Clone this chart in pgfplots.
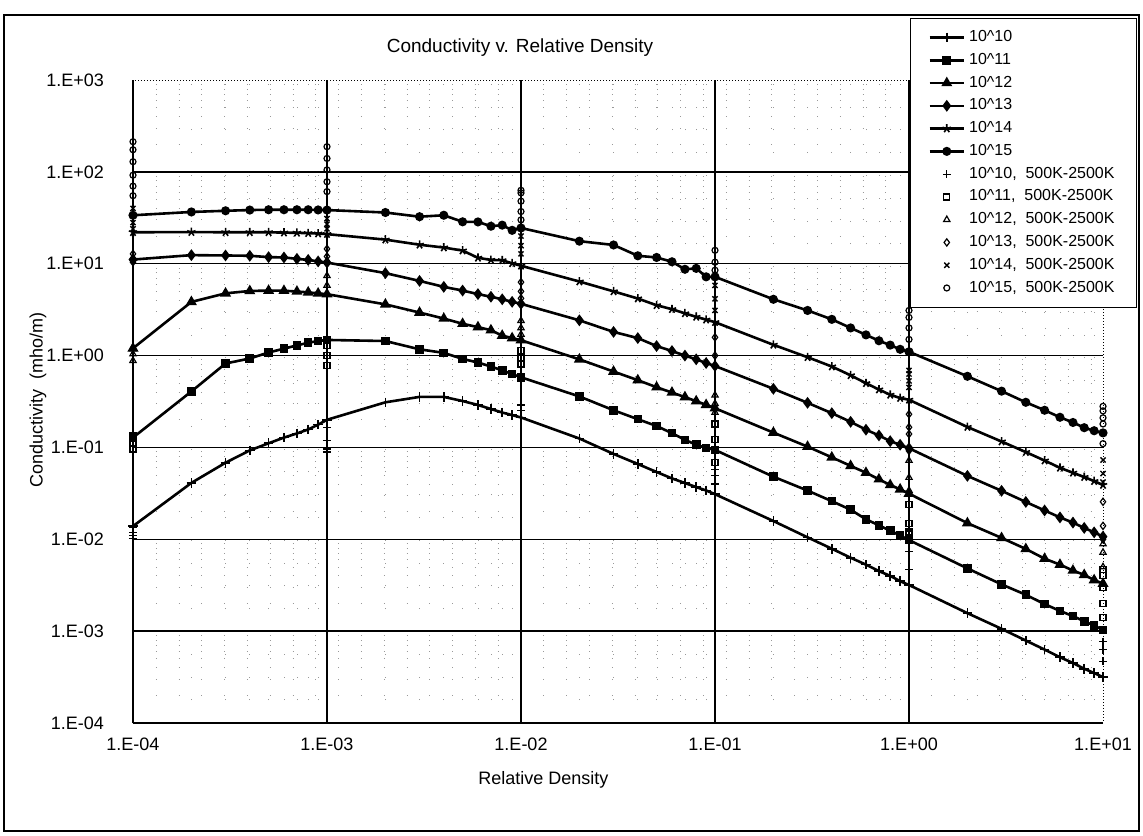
\documentclass[border=0pt]{standalone}
\usepackage{pgfplots}
\pgfplotsset{compat=1.18}
\usepackage{pgfplotstable}
\usepackage{fontspec}
\setmainfont{Liberation Sans}

\pgfplotstableread{
x y
1e-4 0.0139
2e-4 0.0411
3e-4 0.0682
4e-4 0.0929
5e-4 0.111
6e-4 0.128
7e-4 0.142
8e-4 0.157
9e-4 0.177
1e-3 0.200
2e-3 0.310
3e-3 0.355
4e-3 0.355
5e-3 0.320
6e-3 0.290
7e-3 0.262
8e-3 0.240
9e-3 0.225
1e-2 0.212
2e-2 0.125
3e-2 0.085
4e-2 0.066
5e-2 0.054
6e-2 0.046
7e-2 0.041
8e-2 0.037
9e-2 0.034
1e-1 0.031
2e-1 0.0158
3e-1 0.0105
4e-1 0.0079
5e-1 0.0063
6e-1 0.0053
7e-1 0.0045
8e-1 0.0040
9e-1 0.0035
1 0.00318
2 0.00157
3 0.00106
4 0.00079
5 0.00063
6 0.00052
7 0.00045
8 0.00039
9 0.00035
10 0.000316
}\tA

\pgfplotstableread{
x y
1e-4 0.128
2e-4 0.407
3e-4 0.82
4e-4 0.93
5e-4 1.08
6e-4 1.19
7e-4 1.29
8e-4 1.38
9e-4 1.44
1e-3 1.48
2e-3 1.44
3e-3 1.17
4e-3 1.07
5e-3 0.92
6e-3 0.84
7e-3 0.76
8e-3 0.69
9e-3 0.63
1e-2 0.58
2e-2 0.359
3e-2 0.254
4e-2 0.203
5e-2 0.171
6e-2 0.143
7e-2 0.121
8e-2 0.107
9e-2 0.099
1e-1 0.094
2e-1 0.048
3e-1 0.0339
4e-1 0.026
5e-1 0.021
6e-1 0.0165
7e-1 0.0142
8e-1 0.0124
9e-1 0.011
1 0.0098
2 0.00482
3 0.00323
4 0.00249
5 0.00197
6 0.00166
7 0.00146
8 0.00128
9 0.00115
10 0.00103
}\tB

\pgfplotstableread{
x y
1e-4 1.2
2e-4 3.84
3e-4 4.76
4e-4 5.05
5e-4 5.1
6e-4 5.08
7e-4 4.98
8e-4 4.88
9e-4 4.75
1e-3 4.66
2e-3 3.61
3e-3 2.94
4e-3 2.53
5e-3 2.22
6e-3 2.04
7e-3 1.89
8e-3 1.65
9e-3 1.55
1e-2 1.47
2e-2 0.91
3e-2 0.67
4e-2 0.54
5e-2 0.452
6e-2 0.396
7e-2 0.353
8e-2 0.319
9e-2 0.291
1e-1 0.267
2e-1 0.145
3e-1 0.102
4e-1 0.078
5e-1 0.063
6e-1 0.053
7e-1 0.045
8e-1 0.039
9e-1 0.035
1 0.0314
2 0.0150
3 0.01035
4 0.00785
5 0.00615
6 0.0053
7 0.00457
8 0.0041
9 0.0036
10 0.00329
}\tC

\pgfplotstableread{
x y
1e-4 11.1
2e-4 12.4
3e-4 12.3
4e-4 12.2
5e-4 11.8
6e-4 11.7
7e-4 11.3
8e-4 11.0
9e-4 10.6
1e-3 10.3
2e-3 7.9
3e-3 6.5
4e-3 5.6
5e-3 5.1
6e-3 4.67
7e-3 4.37
8e-3 4.1
9e-3 3.85
1e-2 3.66
2e-2 2.42
3e-2 1.81
4e-2 1.55
5e-2 1.27
6e-2 1.12
7e-2 1.0
8e-2 0.91
9e-2 0.83
1e-1 0.77
2e-1 0.435
3e-1 0.306
4e-1 0.236
5e-1 0.19
6e-1 0.156
7e-1 0.135
8e-1 0.117
9e-1 0.107
1 0.098
2 0.049
3 0.0337
4 0.0255
5 0.0206
6 0.0173
7 0.0152
8 0.0133
9 0.0119
10 0.0107
}\tD

\pgfplotstableread{
x y
1e-4 22.0
2e-4 22.1
3e-4 22.0
4e-4 22.0
5e-4 22.0
6e-4 21.8
7e-4 21.7
8e-4 21.5
9e-4 21.3
1e-3 21.0
2e-3 18.3
3e-3 16.1
4e-3 15.0
5e-3 13.9
6e-3 11.6
7e-3 11.0
8e-3 10.9
9e-3 10.1
1e-2 9.5
2e-2 6.4
3e-2 5.0
4e-2 4.18
5e-2 3.53
6e-2 3.2
7e-2 2.88
8e-2 2.64
9e-2 2.46
1e-1 2.31
2e-1 1.31
3e-1 0.96
4e-1 0.76
5e-1 0.61
6e-1 0.50
7e-1 0.427
8e-1 0.374
9e-1 0.345
1 0.33
2 0.167
3 0.116
4 0.089
5 0.072
6 0.060
7 0.053
8 0.0476
9 0.043
10 0.039
}\tE

\pgfplotstableread{
x y
1e-4 33.7
2e-4 36.6
3e-4 37.7
4e-4 38.4
5e-4 38.7
6e-4 38.7
7e-4 38.7
8e-4 38.7
9e-4 38.5
1e-3 38.4
2e-3 36.1
3e-3 32.5
4e-3 33.7
5e-3 28.6
6e-3 28.5
7e-3 25.6
8e-3 26.3
9e-3 23.1
1e-2 24.5
2e-2 17.6
3e-2 16.0
4e-2 12.2
5e-2 11.7
6e-2 10.5
7e-2 8.7
8e-2 8.9
9e-2 7.2
1e-1 7.2
2e-1 4.1
3e-1 3.1
4e-1 2.48
5e-1 2.0
6e-1 1.68
7e-1 1.45
8e-1 1.30
9e-1 1.17
1 1.10
2 0.595
3 0.41
4 0.31
5 0.254
6 0.213
7 0.187
8 0.164
9 0.152
10 0.144
}\tF

\pgfplotstableread{
x y
1e-4 0.0134
1e-4 0.0118
1e-4 0.0109
1e-4 0.0102
1e-3 0.166
1e-3 0.118
1e-3 0.096
1e-3 0.089
1e-2 0.25
1e-2 0.29
1e-1 0.049
1e-1 0.058
1e-1 0.040
1 0.0123
1 0.0074
1 0.0047
10 0.00077
10 0.00063
10 0.00047
}\sA

\pgfplotstableread{
x y
1e-4 0.134
1e-4 0.113
1e-4 0.096
1e-3 1.28
1e-3 1.0
1e-3 0.78
1e-2 1.13
1e-2 0.95
1e-2 0.81
1e-1 0.18
1e-1 0.123
1e-1 0.069
1 0.024
1 0.015
1 0.012
10 0.0047
10 0.0040
10 0.0030
10 0.0020
10 0.0014
}\sB

\pgfplotstableread{
x y
1e-4 1.18
1e-4 1.04
1e-4 0.88
1e-3 7.4
1e-3 5.8
1e-2 1.7
1e-2 2.0
1e-2 2.4
1e-1 0.37
1e-1 0.24
1e-1 0.30
1 0.072
1 0.047
1 0.034
10 0.0089
10 0.0072
10 0.0050
}\sC

\pgfplotstableread{
x y
1e-4 12.8
1e-4 11.3
1e-4 10.4
1e-3 14.5
1e-3 12.0
1e-2 4.2
1e-2 5.0
1e-2 6.3
1e-1 1.58
1e-1 1.0
1 0.23
1 0.166
1 0.14
1 0.092
10 0.0256
10 0.014
10 0.010
}\sD

\pgfplotstableread{
x y
1e-4 24
1e-4 28
1e-4 34
1e-4 40
1e-3 31
1e-3 24
1e-3 27
1e-2 20
1e-2 15.7
1e-2 12.8
1e-1 5.8
1e-1 4.15
1e-1 3.1
1 0.69
1 0.63
1 0.53
1 0.45
10 0.073
10 0.052
10 0.042
}\sE

\pgfplotstableread{
x y
1e-4 213
1e-4 174
1e-4 129
1e-4 92
1e-4 70
1e-4 55
1e-3 188
1e-3 140
1e-3 105
1e-3 78
1e-3 61
1e-2 63
1e-2 59
1e-2 48
1e-2 37
1e-2 30
1e-1 14
1e-1 10.4
1e-1 8.5
1 3.1
1 2.6
1 2.0
1 1.5
10 0.28
10 0.25
10 0.21
10 0.18
10 0.11
}\sF

\begin{document}
\begin{tikzpicture}[x=1pt,y=1pt]
\useasboundingbox (0,0) rectangle (571.5,417.5);
\draw[line width=0.6pt] (2,2) rectangle (569.5,410);
\begin{axis}[
  at={(66.5pt,56pt)}, anchor=south west,
  width=485pt, height=321.5pt, scale only axis,
  xmode=log, ymode=log,
  xmin=1e-4, xmax=10, ymin=1e-4, ymax=1e3,
  xtick={1e-4,1e-3,1e-2,1e-1,1,10},
  xticklabels={1.E-04,1.E-03,1.E-02,1.E-01,1.E+00,1.E+01},
  ytick={1e-4,1e-3,1e-2,1e-1,1,10,100,1000},
  yticklabels={1.E-04,1.E-03,1.E-02,1.E-01,1.E+00,1.E+01,1.E+02,1.E+03},
  major tick length=0pt, minor tick length=0pt,
  extra x ticks={1e-4,1e-3,1e-2,1e-1,1},
  extra x tick labels={},
  extra y ticks={1e-4,1e-3,1e-2,1e-1,1,10,100},
  extra y tick labels={},
  extra tick style={grid=major, major grid style={black, line width=0.7pt}},
  xminorgrids, yminorgrids,
  minor grid style={black!40, line width=0.4pt, dash pattern=on 0.4pt off 11pt},
  axis line style={black, line width=0.5pt, densely dotted},
  tick label style={font=\fontsize{9}{10}\selectfont},
  xticklabel style={yshift=-4pt},
  yticklabel style={xshift=-11pt},
  title={Conductivity v. Relative Density},
  title style={at={(axis description cs:0.399,1.05)}, anchor=center, yshift=-6pt, font=\fontsize{9.5}{11}\selectfont},
  xlabel={Relative Density},
  xlabel style={at={(axis description cs:0.423,-0.089)}, anchor=center, font=\fontsize{9}{10}\selectfont},
  ylabel={Conductivity\ \ (mho/m)},
  ylabel style={at={(axis description cs:-0.098,0.502)}, anchor=center, font=\fontsize{9}{10}\selectfont},
  legend style={at={(axis description cs:1.035,1.0964)}, anchor=north east,
    font=\fontsize{8}{9}\selectfont, draw=black, line width=0.4pt, fill=white,
    inner xsep=9pt, inner ysep=4pt, row sep=0.3pt},
  legend cell align=left,
]
\addplot[black, line width=1.3pt, mark=+, mark size=2.4pt, mark options={solid, line width=0.8pt}] table {\tA};
\addplot[black, line width=1.3pt, mark=square*, mark size=1.5pt, mark options={solid}] table {\tB};
\addplot[black, line width=1.3pt, mark=triangle*, mark size=1.9pt, mark options={solid}] table {\tC};
\addplot[black, line width=1.3pt, mark=diamond*, mark size=1.9pt, mark options={solid}] table {\tD};
\addplot[black, line width=1.3pt, mark=star, mark size=2.2pt, mark options={solid, line width=0.8pt}] table {\tE};
\addplot[black, line width=1.3pt, mark=*, mark size=1.6pt, mark options={solid}] table {\tF};
\addplot[black, only marks, mark=+, mark size=2pt, line width=0.6pt] table {\sA};
\addplot[black, only marks, mark=square, mark size=1.5pt, line width=0.6pt] table {\sB};
\addplot[black, only marks, mark=triangle, mark size=1.8pt, line width=0.6pt] table {\sC};
\addplot[black, only marks, mark=diamond, mark size=1.8pt, line width=0.6pt] table {\sD};
\addplot[black, only marks, mark=x, mark size=1.8pt, line width=0.7pt] table {\sE};
\addplot[black, only marks, mark=o, mark size=1.5pt, line width=0.6pt] table {\sF};
\legend{10\textasciicircum 10, 10\textasciicircum 11, 10\textasciicircum 12, 10\textasciicircum 13, 10\textasciicircum 14, 10\textasciicircum 15,
  {10\textasciicircum 10,\ \ 500K-2500K}, {10\textasciicircum 11,\ \ 500K-2500K}, {10\textasciicircum 12,\ \ 500K-2500K},
  {10\textasciicircum 13,\ \ 500K-2500K}, {10\textasciicircum 14,\ \ 500K-2500K}, {10\textasciicircum 15,\ \ 500K-2500K}}
\end{axis}
\end{tikzpicture}
\end{document}
